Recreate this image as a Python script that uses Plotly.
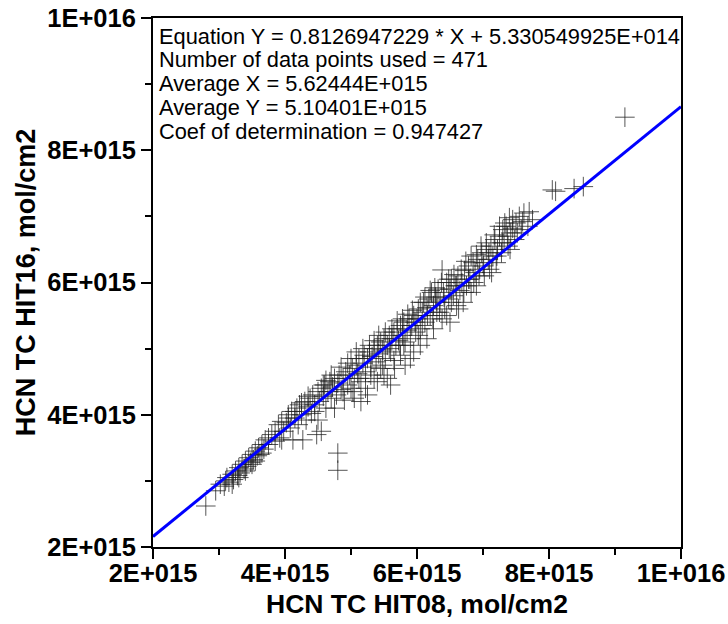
import numpy as np
import plotly.graph_objects as go

# Data in units of 1E+015 mol/cm2
x_hit08 = [
    2.80, 2.95, 3.02, 3.08, 3.12, 3.15, 3.20, 3.22, 3.25, 3.28, 3.30, 3.32, 3.35, 3.38, 3.40, 3.42,
    3.45, 3.48, 3.50, 3.52, 3.55, 3.58, 3.60, 3.62, 3.65, 3.68, 3.70, 3.75, 3.80, 3.85, 3.90, 3.92,
    3.95, 3.98,
    4.02, 4.05, 4.08, 4.10, 4.12, 4.15, 4.18, 4.20, 4.22, 4.25, 4.27, 4.30, 4.32, 4.35, 4.38, 4.40,
    4.42, 4.45, 4.48, 4.50, 4.52, 4.55, 4.55, 4.58, 4.60, 4.62, 4.65, 4.68, 4.70, 4.72, 4.75, 4.78,
    4.80, 4.80, 4.80, 4.82, 4.85, 4.88, 4.90, 4.92, 4.95, 4.98,
    5.00, 5.02, 5.05, 5.05, 5.08, 5.10, 5.12, 5.15, 5.15, 5.18, 5.20, 5.22, 5.25, 5.25, 5.28, 5.30,
    5.32, 5.35, 5.35, 5.38, 5.40, 5.42, 5.45, 5.45, 5.48, 5.50, 5.50, 5.52, 5.55, 5.58, 5.60, 5.60,
    5.62, 5.65, 5.65, 5.68, 5.70, 5.72, 5.75, 5.75, 5.78, 5.80, 5.80, 5.82, 5.85, 5.88, 5.90, 5.92,
    5.95, 5.95, 5.98,
    6.00, 6.02, 6.05, 6.05, 6.08, 6.10, 6.12, 6.15, 6.15, 6.18, 6.20, 6.22, 6.25, 6.25, 6.28, 6.30,
    6.32, 6.35, 6.38, 6.38, 6.40, 6.42, 6.45, 6.48, 6.50, 6.50, 6.52, 6.55, 6.58, 6.60, 6.62, 6.65,
    6.68, 6.70, 6.72, 6.75, 6.78, 6.80, 6.82, 6.85, 6.88, 6.90, 6.92, 6.95, 6.98,
    7.00, 7.02, 7.05, 7.08, 7.10, 7.12, 7.15, 7.18, 7.20, 7.22, 7.25, 7.28, 7.30, 7.32, 7.35, 7.38,
    7.40, 7.42, 7.45, 7.48, 7.50, 7.55, 7.58, 7.62, 7.70, 7.75, 8.05, 8.10, 8.38, 8.52,
    9.15,
    4.05, 4.15, 4.25, 4.35, 4.45, 4.50, 4.58, 4.62, 4.70, 4.75, 4.85, 4.88, 4.95, 5.00, 5.03, 5.08,
    5.12, 5.18, 5.22, 5.28, 5.30, 5.35, 5.40, 5.42, 5.48, 5.52, 5.55, 5.58, 5.62, 5.66, 5.70, 5.74,
    5.78, 5.82, 5.86, 5.90, 5.93, 5.97, 6.02, 6.05, 6.08, 6.12, 6.16, 6.20, 6.24, 6.27, 6.30, 6.34,
    6.37, 6.41, 6.45, 6.48, 6.52, 6.56, 6.60, 6.63, 6.67, 6.71, 6.74, 6.78, 6.82, 6.86, 6.90, 6.94,
    6.97, 7.01, 7.05, 7.09, 7.13, 7.17, 7.21, 7.25, 7.29, 7.33, 7.37, 7.41, 7.45, 7.52, 7.60, 7.68,
    3.55, 3.65, 3.75, 3.85, 3.95, 3.30, 3.40, 3.20, 3.10, 3.50,
]
y_hit16 = [
    2.62, 2.85, 2.95, 2.92, 3.05, 2.98, 3.10, 3.02, 3.15, 3.08, 3.20, 3.12, 3.25, 3.18, 3.30, 3.22,
    3.35, 3.28, 3.40, 3.32, 3.45, 3.38, 3.50, 3.40, 3.55, 3.48, 3.62, 3.55, 3.70, 3.60, 3.85, 3.65,
    3.90, 3.75,
    3.88, 4.00, 3.80, 4.05, 3.62, 3.95, 4.10, 3.85, 4.15, 4.00, 3.62, 4.20, 3.92, 4.12, 4.25, 4.02,
    4.30, 4.15, 3.70, 4.35, 4.20, 3.75, 4.40, 4.28, 4.45, 4.10, 4.35, 4.50, 4.25, 4.42, 4.55, 4.30,
    3.42, 3.16, 4.48, 4.60, 4.38, 4.55, 4.22, 4.65, 4.45, 4.60,
    4.40, 4.70, 4.55, 4.25, 4.75, 4.62, 4.85, 4.50, 4.20, 4.78, 4.90, 4.65, 4.85, 4.30, 4.95, 4.72,
    4.88, 5.00, 4.55, 4.80, 5.05, 4.92, 4.70, 5.10, 4.98, 5.15, 4.60, 4.85, 5.05, 5.20, 4.95, 4.45,
    5.15, 5.25, 4.82, 5.05, 5.30, 5.12, 4.90, 5.35, 5.20, 5.05, 5.40, 4.75, 5.28, 5.45, 5.15, 5.35,
    5.50, 4.95, 5.25,
    5.45, 5.60, 5.30, 5.05, 5.55, 5.70, 5.40, 5.62, 5.15, 5.75, 5.50, 5.85, 5.65, 5.30, 5.78, 5.55,
    5.90, 5.70, 6.19, 5.45, 5.85, 5.60, 6.00, 5.75, 5.90, 5.40, 6.05, 5.80, 5.95, 5.65, 6.10, 5.88,
    6.00, 5.70, 6.18, 5.95, 6.25, 6.05, 5.85, 6.30, 6.15, 5.95, 6.35, 6.20, 6.45,
    6.30, 6.10, 6.50, 6.35, 6.20, 6.55, 6.40, 6.65, 6.30, 6.50, 6.70, 6.45, 6.80, 6.60, 6.85, 6.55,
    6.98, 6.75, 6.95, 6.65, 6.90, 7.00, 6.80, 7.05, 7.07, 6.95, 7.40, 7.38, 7.42, 7.45,
    8.50,
    3.95, 4.05, 4.18, 4.28, 4.05, 3.92, 4.45, 4.52, 4.60, 4.10, 4.72, 4.35, 4.78, 4.85, 4.35, 4.95,
    4.55, 5.00, 4.40, 5.05, 4.60, 5.12, 4.50, 5.20, 4.75, 5.25, 4.55, 5.00, 5.30, 4.70, 5.42, 5.05,
    5.45, 5.10, 5.52, 4.85, 5.58, 5.40, 5.20, 5.70, 5.35, 5.78, 5.50, 5.88, 5.45, 5.92, 5.72, 5.55,
    6.00, 5.78, 5.50, 6.05, 5.70, 6.12, 5.95, 5.60, 6.20, 5.85, 6.32, 6.05, 6.40, 6.00, 6.42, 6.10,
    6.55, 6.25, 6.60, 6.45, 6.15, 6.72, 6.40, 6.85, 6.60, 6.90, 6.70, 6.50, 6.82, 6.75, 6.92, 6.85,
    3.30, 3.42, 3.65, 3.75, 3.62, 3.05, 3.15, 2.95, 3.00, 3.25,
]

# Regression result
slope = 0.8126947229
intercept = 5.330549925e14
fit_text = [
    "Equation Y = 0.8126947229 * X + 5.330549925E+014",
    "Number of data points used = 471",
    "Average X = 5.62444E+015",
    "Average Y = 5.10401E+015",
    "Coef of determination = 0.947427",
]
x_title = "HCN TC HIT08, mol/cm2"
y_title = "HCN TC HIT16, mol/cm2"

tick_vals = [2e15, 4e15, 6e15, 8e15, 1e16]
tick_text = ["2E+015", "4E+015", "6E+015", "8E+015", "1E+016"]
x_range = [2e15, 1e16]

xs = np.array(x_hit08) * 1e15
ys = np.array(y_hit16) * 1e15
line_x = np.array(x_range)
line_y = slope * line_x + intercept

fig = go.Figure()
fig.add_trace(go.Scatter(
    x=xs, y=ys, mode="markers",
    marker=dict(symbol="cross-thin", size=14,
                line=dict(width=1, color="rgba(30,30,30,0.75)")),
    hoverinfo="skip", showlegend=False,
))
fig.add_trace(go.Scatter(
    x=line_x, y=line_y, mode="lines",
    line=dict(color="#0000ff", width=3),
    showlegend=False,
))

font_bold = "Liberation Sans"
axis_common = dict(
    range=x_range, tickvals=tick_vals, ticktext=tick_text,
    showgrid=False, zeroline=False, automargin=False,
    showline=True, linecolor="black", linewidth=2, mirror=True,
    ticks="outside", ticklen=10, tickwidth=2, tickcolor="black",
    minor=dict(ticks="outside", ticklen=6, tickwidth=2, tickcolor="black", dtick=1e15),
    tickfont=dict(family=font_bold, size=25.5, color="black", weight="bold"),
)

fig.update_layout(
    width=728, height=624,
    margin=dict(l=153, r=47, t=18, b=77),
    plot_bgcolor="white", paper_bgcolor="white",
    xaxis=dict(**axis_common, ticklabelstandoff=-8),
    yaxis=dict(**axis_common,
               title=dict(text="<b>" + y_title + "</b>", standoff=4,
                          font=dict(family=font_bold, size=27, color="black"))),
)

fig.add_annotation(
    text="<b>" + x_title + "</b>", xref="paper", yref="paper",
    x=0.5, y=(547 - 604) / 529, xanchor="center", yanchor="middle",
    showarrow=False, borderpad=0,
    font=dict(family=font_bold, size=26.5, color="black"),
)

line_px = [36, 60, 84, 108, 131]
for txt, py in zip(fit_text, line_px):
    fig.add_annotation(
        text=txt, xref="paper", yref="paper",
        x=(158 - 153) / 528, y=(547 - py) / 529,
        xanchor="left", yanchor="middle", showarrow=False, borderpad=0,
        font=dict(family="Liberation Sans", size=21.8, color="black"),
    )

fig.write_html("out.html")
